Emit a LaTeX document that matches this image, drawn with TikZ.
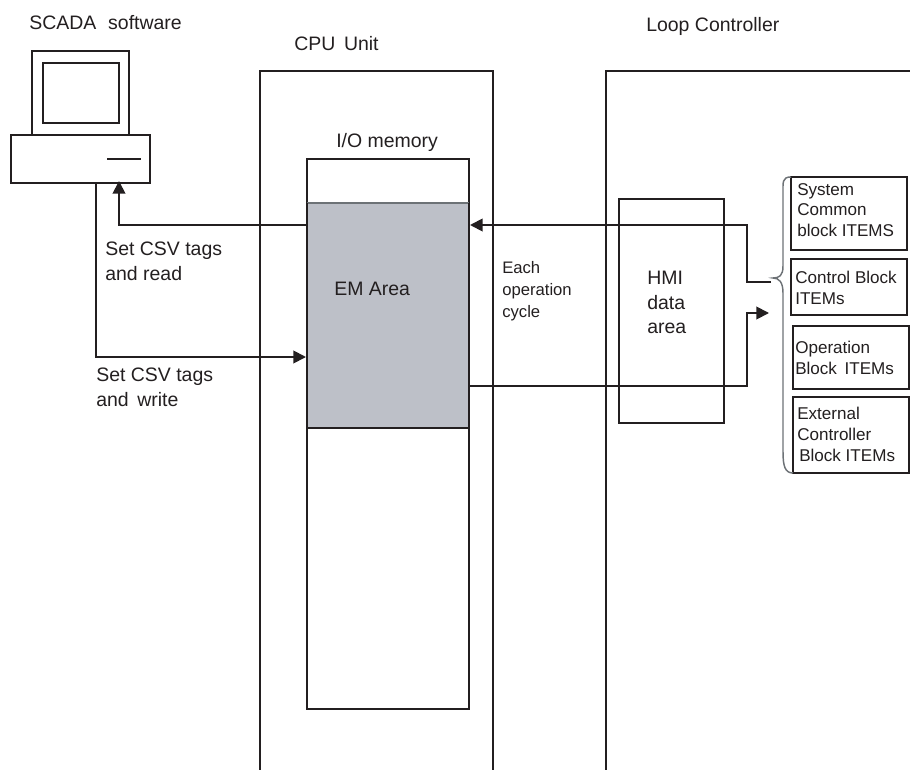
\documentclass[tikz,border=0pt]{standalone}
\usepackage{fontspec}
\setmainfont{Liberation Sans}
\usetikzlibrary{arrows.meta}
\definecolor{ink}{HTML}{231F20}
\definecolor{emgray}{HTML}{BDC0C8}
\definecolor{bracegray}{HTML}{6D7276}
\tikzset{
  x=0.75pt,y=-0.75pt,
  line/.style={draw=ink,line width=1.4pt},
  conn/.style={line,-{Triangle[length=9.5pt,width=9.5pt]}},
  lbl/.style={text=ink,font=\fontsize{14.6}{18.3}\selectfont,align=left,inner sep=0pt,anchor=north west},
  small/.style={text=ink,font=\fontsize{12.8}{15.6}\selectfont,align=left,inner sep=0pt,anchor=north west},
  cyclelbl/.style={small,font=\fontsize{12.5}{16.6}\selectfont},
  item/.style={draw=ink,line width=1.4pt,fill=white,inner sep=0pt,outer sep=0pt,anchor=north west},
}
\newcommand{\boxnode}[6][]{\node[item,#1,minimum width=#4*0.75pt,minimum height=#5*0.75pt] (#2) at #3 {#6};}
\begin{document}
\begin{tikzpicture}
\useasboundingbox (0,0) rectangle (910,770);
% CPU and Loop frames
\coordinate (cpuBL) at (260,770);
\coordinate (cpuTL) at (260,71);
\coordinate (cpuTR) at (493,71);
\coordinate (cpuBR) at (493,770);
\coordinate (loopBL) at (606,770);
\coordinate (loopTL) at (606,71);
\coordinate (loopTR) at (910,71);
\draw[line] (cpuBL) -- (cpuTL) -- (cpuTR) -- (cpuBR);
\draw[line] (loopBL) -- (loopTL) -- (loopTR);
% memory
\boxnode{io}{(307,159)}{162}{550}{}
\node[fill=emgray,draw=none,inner sep=0pt,outer sep=0pt,anchor=north west,minimum width=162*0.75pt,minimum height=225*0.75pt] (em) at (307,203) {};
\draw[draw=ink,line width=1pt] (em.south west) -- (em.south east);
\draw[draw=bracegray,line width=1pt] (em.north west) -- (em.north east);
\draw[line] (em.north west) -- (em.south west) (em.north east) -- (em.south east);
% HMI
\boxnode{hmi}{(619,199)}{105}{224}{}
% computer
\boxnode{mon}{(32,51)}{97}{84}{}
\boxnode{scr}{(43,63)}{76}{60}{}
\boxnode{base}{(11,135)}{139}{48}{}
\coordinate (slotL) at (107,159);
\coordinate (slotR) at (141,159);
\draw[line] (slotL) -- (slotR);
% junctions
\coordinate (a1) at (119,181);
\coordinate (a2) at (119,225);
\coordinate (a3) at (307,225);
\coordinate (b1) at (96,183);
\coordinate (b2) at (96,357);
\coordinate (b3) at (306,357);
\coordinate (c1) at (771,282);
\coordinate (c2) at (747,282);
\coordinate (c3) at (747,225);
\coordinate (c4) at (470,225);
\coordinate (d1) at (469,386);
\coordinate (d2) at (747,386);
\coordinate (d3) at (747,313);
\coordinate (d4) at (769,313);
\draw[conn] (a3) -- (a2) -- (a1);
\draw[conn] (b1) -- (b2) -- (b3);
\draw[conn] (c1) -- (c2) -- (c3) -- (c4);
\draw[conn] (d1) -- (d2) -- (d3) -- (d4);
% item boxes
\boxnode{sys}{(791,177)}{116}{73}{}
\boxnode{ctl}{(791,259)}{116}{56}{}
\boxnode{ope}{(793,326)}{116}{63}{}
\boxnode{ext}{(793,397)}{116}{76}{}
% brace
\draw[draw=bracegray,line width=1.1pt] (791,177) .. controls (782,177) and (783,182) .. (783,194)
  -- (783,266) .. controls (783,276) and (779,278) .. (773,278)
  .. controls (779,278) and (783,282) .. (783,293)
  -- (783,452) .. controls (783,466) and (785,473) .. (793,473);
% labels
\node[lbl] (tscada) at (29,15) {SCADA\,\, software};
\node[lbl] (tcpu) at (294,36) {CPU\, Unit};
\node[lbl] (tloop) at (646,17) {Loop Controller};
\node[lbl] (tio) at (336,133) {I/O memory};
\node[lbl] (tem) at (334,282) {EM Area};
\node[lbl] (tread) at (105,242) {Set CSV tags\\and read};
\node[lbl] (twrite) at (96,368) {Set CSV tags\\and\, write};
\node[cyclelbl] (tcycle) at (502,261) {Each\\operation\\cycle};
\node[lbl] (thmi) at (647,271) {HMI\\data\\area};
\node[small] (tsys) at (797,183) {System\\Common\\block ITEMS};
\node[small] (tctl) at (795,271) {Control Block\\ITEMs};
\node[small] (tope) at (795,341) {Operation\\Block\, ITEMs};
\node[small] (text1) at (797,407) {External\\Controller\\\hspace{1.5pt}Block ITEMs};
\end{tikzpicture}
\end{document}
